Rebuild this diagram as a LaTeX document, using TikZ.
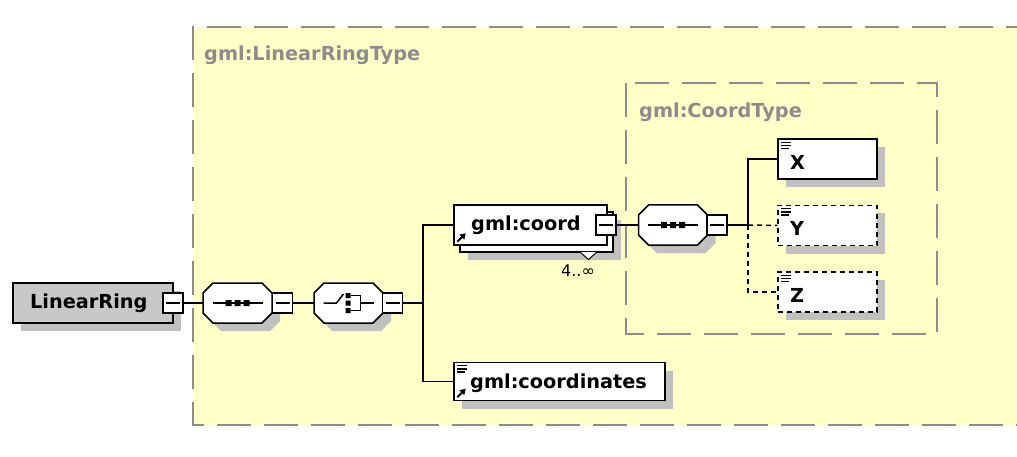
\documentclass[tikz,border=0pt]{standalone}
\usepackage{fontspec}
\setmainfont{DejaVu Sans}
\usetikzlibrary{shadows,arrows.meta}
\definecolor{bgyellow}{HTML}{FFFFC8}
\definecolor{framegray}{HTML}{8C8C8C}
\definecolor{shadowgray}{HTML}{C0C0C0}
\definecolor{ringgray}{HTML}{C8C8C8}
\tikzset{
  shadowed/.style={drop shadow={shadow xshift=8pt,shadow yshift=-8pt,fill=shadowgray,opacity=1}},
  elem/.style={draw=black,line width=1.5pt,fill=white,rectangle,inner sep=0pt},
  optelem/.style={elem,dash pattern=on 5pt off 4pt},
  compbox/.style={rectangle,draw=none,minimum width=69pt,minimum height=40pt,inner sep=0pt},
  minusbox/.style={draw=black,line width=1.5pt,fill=white,rectangle,minimum size=20pt,inner sep=0pt,
    path picture={\draw[line width=1.5pt] ([xshift=3pt]path picture bounding box.west) -- ([xshift=-3pt]path picture bounding box.east);}},
  typeframe/.style={draw=framegray,line width=2pt,dash pattern=on 34pt off 13pt},
  lbl/.style={font=\fontsize{19.3}{22}\selectfont\bfseries,inner sep=0pt,anchor=west},
  typelbl/.style={lbl,text=framegray},
  conn/.style={line width=1.5pt},
  optconn/.style={line width=1.5pt,dash pattern=on 5pt off 4pt},
  octagon/.pic={
     \fill[shadowgray] (-24.5+8,-20+8) -- (24.5+8,-20+8) -- (34.5+8,-10+8) -- (34.5+8,10+8) -- (24.5+8,20+8) -- (-24.5+8,20+8) -- (-34.5+8,10+8) -- (-34.5+8,-10+8) -- cycle;
     \draw[line width=1.5pt,fill=white] (-24.5,-20) -- (24.5,-20) -- (34.5,-10) -- (34.5,10) -- (24.5,20) -- (-24.5,20) -- (-34.5,10) -- (-34.5,-10) -- cycle;},
  eqicon/.pic={\draw[line width=1.4pt] (0,0) -- (10,0) (0,3.2) -- (10,3.2) (0,6.4) -- (8,6.4);},
  reficon/.pic={\draw[line width=2pt,-{Triangle[length=5.5pt,width=6.5pt]}] (0,0) -- (8.5,-8.5);},
  seqicon/.pic={\draw[line width=1.5pt] (-25,0) -- (25,0);
     \fill (-12,-3) rectangle (-6,3) (-3,-3) rectangle (3,3) (6,-3) rectangle (12,3);},
  choiceicon/.pic={\draw[line width=1.5pt] (-25,0) -- (-12,0) -- (-5,-9);
     \fill (-3,-10) rectangle (2,-5) (-3,-2.5) rectangle (2,2.5) (-3,5) rectangle (2,10);
     \draw[line width=1.5pt] (2,-7.5) -- (12,-7.5) -- (12,7.5) -- (2,7.5) (12,0) -- (25,0);},
}
\begin{document}
\begin{tikzpicture}[x=1pt,y=-1pt]
\useasboundingbox (0,0) rectangle (1017,457);
\fill[white] (0,0) rectangle (1017,457);
\begin{scope}
\clip (0,0) rectangle (1017,457);
% type frames
\fill[bgyellow] (193,27) rectangle (1040,425);
\draw[typeframe] (1040,27) -- (193,27) -- (193,425) -- (1040,425);
\draw[typeframe] (626,83) rectangle (937,334);
\node[typelbl] (ringtype) at (204,55) {gml:LinearRingType};
\node[typelbl] (coordtype) at (639,112) {gml:CoordType};

% LinearRing
\node[elem,fill=ringgray,shadowed,minimum width=160pt,minimum height=40pt] (ring) at (93,303) {};
\node[lbl] (ringtxt) at (30,303) {LinearRing};
\node[minusbox] (ringm) at (173,303) {};

% compositors
\node[compbox] (seq1) at (237.5,303) {};
\pic at (seq1.center) {octagon};
\pic at (seq1.center) {seqicon};
\node[minusbox] (seq1m) at (282.5,303) {};
\node[compbox] (choice) at (348.5,303) {};
\pic at (choice.center) {octagon};
\pic at (choice.center) {choiceicon};
\node[minusbox] (choicem) at (392.5,303) {};
\coordinate (j1) at (423,303);

% gml:coord (repeated)
\node[elem,shadowed,minimum width=153pt,minimum height=40pt] (coordback) at (536.5,232) {};
\draw[line width=1pt,fill=white] (580,252) -- (588.5,259.5) -- (597,252);
\node[elem,minimum width=153pt,minimum height=40pt] (coord) at (530.5,225) {};
\node[lbl] (coordtxt) at (471,225) {gml:coord};
\pic at ([shift={(4,-4)}]coord.south west) {reficon};
\node[minusbox] (coordm) at (606,225) {};
\node[font=\fontsize{16}{18}\selectfont,inner sep=0pt] (mult) at (578,271) {4..∞};

% gml:coordinates
\node[elem,shadowed,minimum width=211pt,minimum height=38pt] (coordinates) at (559.5,381.5) {};
\node[lbl] (coordinatestxt) at (470,383) {gml:coordinates};
\pic at ([shift={(4,4)}]coordinates.north west) {eqicon};
\pic at ([shift={(4,-4)}]coordinates.south west) {reficon};

% CoordType sequence
\node[compbox] (seq2) at (673,225) {};
\pic at (seq2.center) {octagon};
\pic at (seq2.center) {seqicon};
\node[minusbox] (seq2m) at (717,225) {};
\coordinate (j2) at (748,225);

% X, Y, Z
\node[elem,shadowed,minimum width=99pt,minimum height=40pt] (X) at (827.5,159) {};
\node[optelem,shadowed,minimum width=99pt,minimum height=40pt] (Y) at (827.5,225.5) {};
\node[optelem,shadowed,minimum width=99pt,minimum height=40pt] (Z) at (827.5,292) {};
\pic at ([shift={(4,4)}]X.north west) {eqicon};
\pic at ([shift={(4,4)}]Y.north west) {eqicon};
\pic at ([shift={(4,4)}]Z.north west) {eqicon};
\node[lbl] (Xtxt) at (790,162) {X};
\node[lbl] (Ytxt) at (790,228) {Y};
\node[lbl] (Ztxt) at (790,295) {Z};

% connectors
\draw[conn] (ringm.east) -- (seq1.west);
\draw[conn] (seq1m.east) -- (choice.west);
\draw[conn] (choicem.east) -- (j1);
\draw[conn] (coord.west) -| (j1) |- (coordinates.west);
\draw[conn] (coordm.east) -- (seq2.west);
\draw[conn] (seq2m.east) -- (j2);
\draw[conn] (j2) |- (X.west);
\draw[optconn] (j2) -- (Y.west);
\draw[optconn] (j2) |- (Z.west);
\end{scope}
\end{tikzpicture}
\end{document}
